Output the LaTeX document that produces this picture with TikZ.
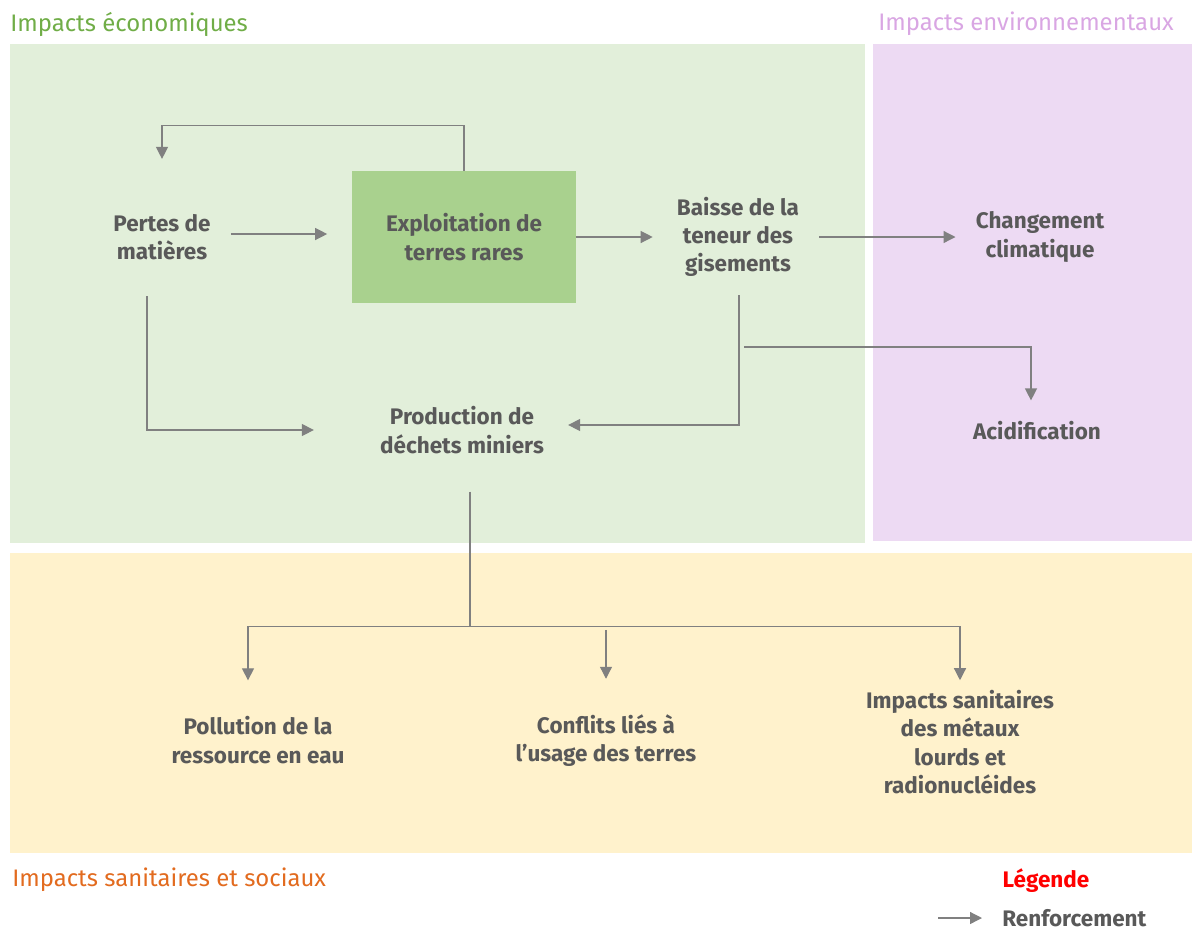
\documentclass[tikz,border=0pt]{standalone}
\usepackage{fontspec}
\setmainfont{Fira Sans}
\usetikzlibrary{arrows.meta,positioning,calc}

\definecolor{zoneEco}{HTML}{E2EFDA}
\definecolor{zoneEnv}{HTML}{EDDAF3}
\definecolor{zoneSan}{HTML}{FFF2CC}
\definecolor{boxVert}{HTML}{A9D18E}
\definecolor{titreEco}{HTML}{70AD47}
\definecolor{titreEnv}{HTML}{D9A6E3}
\definecolor{titreSan}{HTML}{E26B1F}
\definecolor{texteGris}{HTML}{595959}
\definecolor{flecheGris}{HTML}{808080}

\begin{document}
\begin{tikzpicture}[
    x=0.025cm, y=-0.025cm,
    lbl/.style={font=\fontsize{16}{20}\selectfont\bfseries, text=texteGris, align=center, inner xsep=0.5cm, inner ysep=0.25cm},
    titre/.style={font=\fontsize{17}{20}\selectfont, anchor=west, inner sep=0pt},
    arrow/.style={draw=flecheGris, line width=0.9pt, -{Triangle[length=3mm, width=3mm]}},
    link/.style={draw=flecheGris, line width=0.9pt}
]
\useasboundingbox (0,0) rectangle (1192,930);

% Zones
\fill[zoneEco] (10,44) rectangle (865,543);
\fill[zoneEnv] (873,44) rectangle (1192,541);
\fill[zoneSan] (10,553) rectangle (1192,853);

% Titles
\node (teco) [titre, text=titreEco] at (10,24) {Impacts économiques};
\node (tenv) [titre, text=titreEnv] at (878,24) {Impacts environnementaux};
\node (tsan) [titre, text=titreSan] at (12,880) {Impacts sanitaires et sociaux};

% Nodes
\node (exploit) [lbl, fill=boxVert, minimum width=5.575cm, minimum height=3.3cm] at (464,237) {Exploitation de\\terres rares};
\node (pertes) [lbl] at (162,237) {Pertes de\\matières};
\node (baisse) [lbl] at (738,237) {Baisse de la\\teneur des\\gisements};
\node (climat) [lbl] at (1040,237) {Changement\\climatique};
\node (prod) [lbl] at (462,430) {Production de\\déchets miniers};
\node (acid) [lbl] at (1037,431) {Acidification};
\node (eau) [lbl] at (258,740) {Pollution de la\\ressource en eau};
\node (conflits) [lbl] at (606,741) {Conflits liés à\\l’usage des terres};
\node (sante) [lbl] at (960,742) {Impacts sanitaires\\des métaux\\lourds et\\radionucléides};

% Arrows
\draw [arrow, shorten >=0.625cm] ($(pertes.east)+(0,-3)$) -- ($(exploit.west |- pertes.east)+(0,-3)$);
\draw [arrow, shorten >=0.1cm] (exploit.east) -- (baisse.west);
\draw [arrow] (baisse.east) -- (climat.west);
\draw [arrow, shorten >=1.125cm] (exploit.north) -- ++(0,-45) -| (pertes.north);
\draw [arrow, shorten >=1.15cm] ($(pertes.south)+(-15,26)$) |- (prod.west);
\draw [arrow, shorten >=0.1cm] ($(baisse.south)+(1,8)$) |- ($(prod.east)+(0,-5)$);
\draw [arrow, shorten >=0.275cm] ($(baisse.south)+(6,60)$) -| ($(acid.north)+(-6,0)$);

% Branches to health and social impacts
\coordinate (split) at ($(prod.south)+(8,163)$);
\draw [link] ($(prod.south)+(8,28)$) -- (split);
\draw [arrow, shorten >=0.65cm] (split) -| ($(eau.north)+(-10,0)$);
\draw [arrow, shorten >=0.65cm] ($(conflits.north)+(0,-75)$) -- (conflits.north);
\draw [arrow] (split) -| (sante.north);

% Legend
\node (legende) [lbl, text=red, inner ysep=1pt] at (1046,881) {Légende};
\node (renf) [lbl, anchor=west, inner ysep=1pt] at (982,918) {Renforcement};
\coordinate (legdeb) at (938,918);
\draw [arrow] (legdeb) -- (renf.west);

\end{tikzpicture}
\end{document}
